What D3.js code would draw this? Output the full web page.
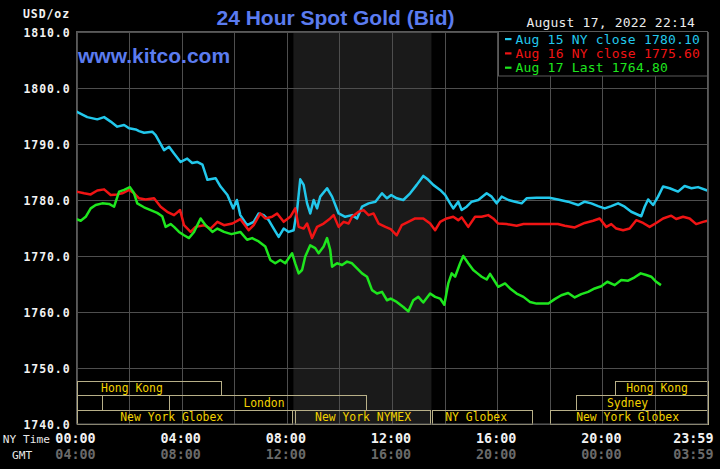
<!DOCTYPE html>
<html><head><meta charset="utf-8">
<script src="https://cdn.jsdelivr.net/npm/d3@7"></script>
<style>html,body{margin:0;padding:0;background:#000;overflow:hidden}</style>
</head><body><svg id="c" width="720" height="469"></svg>
<script>
// ---- data ----
const aug15Times=[0,0.41,0.79,1.05,1.30,1.55,1.81,2.0,2.25,2.38,2.57,2.88,3.01,3.33,3.52,3.71,3.96,4.21,4.40,4.59,4.79,4.98,5.29,5.48,5.74,5.96,6.1,6.23,6.49,6.74,6.93,7.12,7.31,7.50,7.69,7.88,8.07,8.26,8.39,8.51,8.64,8.77,8.89,9.02,9.15,9.27,9.53,9.72,9.97,10.22,10.48,10.67,10.86,11.11,11.37,11.62,11.81,11.97,12.18,12.43,12.69,12.94,13.19,13.38,13.57,13.83,14.02,14.21,14.33,14.52,14.65,14.84,15.03,15.28,15.60,15.79,15.98,16.17,16.43,16.68,16.93,17.12,17.50,17.98,18.31,18.69,19.08,19.33,19.58,19.84,20.09,20.34,20.60,20.85,21.10,21.48,21.61,21.74,21.93,22.12,22.31,22.56,22.88,23.13,23.39,23.64,23.99];
const aug15Values=[1795.8,1794.8,1794.4,1794.8,1794.0,1793.1,1793.4,1792.8,1792.6,1792.3,1792.0,1792.2,1791.6,1788.9,1789.5,1788.3,1786.8,1787.4,1786.6,1786.8,1786.3,1783.6,1783.9,1782.4,1780.9,1778.5,1780.0,1777.3,1775.5,1776.1,1777.6,1777.3,1776.4,1774.9,1773.4,1774.9,1774.3,1774.6,1778.2,1783.7,1782.7,1779.4,1777.6,1780.0,1778.5,1780.6,1782.1,1780.6,1777.6,1777.0,1777.3,1776.7,1778.8,1779.4,1779.7,1781.2,1780.3,1780.9,1780.3,1780.0,1781.2,1782.7,1784.3,1783.6,1782.7,1781.8,1780.9,1779.4,1778.5,1779.7,1778.2,1778.8,1779.7,1780.0,1781.2,1780.6,1779.4,1780.6,1780.0,1779.7,1779.4,1780.3,1780.4,1780.4,1780.1,1779.7,1779.1,1779.7,1779.4,1778.9,1778.5,1778.9,1779.4,1778.8,1777.9,1777.1,1778.8,1780.1,1779.1,1780.6,1782.4,1782.1,1781.5,1782.5,1782.1,1782.3,1781.7];

const aug16Times=[0,0.29,0.54,0.79,1.05,1.30,1.55,1.74,2.0,2.19,2.38,2.63,2.95,3.2,3.45,3.71,3.94,4.09,4.34,4.53,4.85,5.10,5.36,5.61,5.93,6.23,6.55,6.74,6.99,7.18,7.44,7.63,7.88,8.13,8.32,8.45,8.64,8.77,8.96,9.15,9.40,9.65,9.78,9.97,10.16,10.35,10.48,10.73,10.92,11.11,11.30,11.49,11.75,11.95,12.18,12.37,12.62,12.88,13.19,13.45,13.64,13.83,14.08,14.33,14.52,14.65,14.90,15.16,15.41,15.66,15.85,16.04,16.36,16.74,17.0,17.98,18.31,18.57,18.95,19.33,19.65,19.90,20.15,20.34,20.53,20.79,21.04,21.29,21.55,21.80,22.05,22.31,22.62,22.81,23.07,23.32,23.57,23.83,24];
const aug16Values=[1781.5,1781.2,1781.0,1781.7,1781.9,1780.9,1781.0,1781.2,1781.8,1781.2,1780.3,1780.1,1780.3,1778.8,1777.9,1777.3,1778.2,1775.5,1774.3,1775.2,1775.5,1774.9,1776.1,1775.5,1775.8,1776.6,1774.6,1775.5,1777.6,1776.7,1777.0,1777.6,1776.1,1777.0,1778.5,1775.2,1774.9,1775.8,1773.2,1775.2,1775.8,1776.7,1777.3,1775.2,1776.1,1775.8,1777.0,1777.9,1778.2,1777.3,1777.6,1775.8,1775.2,1774.8,1773.7,1775.5,1776.1,1776.7,1776.7,1775.8,1774.6,1776.1,1776.7,1777.0,1776.4,1776.9,1775.2,1777.0,1777.0,1777.3,1776.7,1775.8,1775.7,1775.4,1775.7,1775.7,1775.7,1775.4,1775.1,1775.9,1776.3,1776.7,1775.2,1775.7,1774.9,1774.6,1774.9,1776.4,1775.9,1775.2,1775.9,1776.7,1777.2,1776.6,1777.0,1776.7,1775.7,1776.1,1776.3];

const aug17Times=[0,0.16,0.35,0.54,0.73,0.98,1.24,1.43,1.62,1.81,2.03,2.19,2.31,2.57,2.82,3.07,3.26,3.39,3.58,3.71,3.90,4.09,4.28,4.47,4.72,4.91,5.17,5.36,5.61,5.89,6.23,6.49,6.68,6.93,7.18,7.37,7.56,7.75,7.94,8.20,8.32,8.45,8.58,8.70,8.89,9.08,9.21,9.40,9.53,9.65,9.72,9.91,10.10,10.29,10.48,10.67,10.86,11.05,11.24,11.43,11.62,11.81,11.95,12.18,12.43,12.62,12.81,13.0,13.19,13.45,13.64,13.83,13.99,14.14,14.27,14.40,14.59,14.71,14.90,15.09,15.25,15.41,15.60,15.73,15.92,16.04,16.30,16.49,16.74,17.0,17.25,17.50,17.95,18.19,18.44,18.70,18.95,19.20,19.46,19.71,19.96,20.19,20.47,20.72,20.98,21.23,21.46,21.67,21.86,22.05,22.23];
const aug17Values=[1776.6,1776.3,1777.0,1778.5,1779.1,1779.4,1779.3,1778.8,1781.5,1781.8,1782.3,1781.2,1779.4,1778.7,1778.2,1777.7,1777.1,1775.2,1775.7,1775.2,1774.3,1773.7,1773.2,1774.3,1776.7,1775.5,1774.3,1774.9,1774.3,1773.9,1774.3,1772.9,1773.2,1772.6,1771.7,1769.3,1768.7,1769.3,1768.7,1770.5,1768.7,1766.9,1767.5,1769.9,1771.9,1771.4,1770.5,1771.7,1773.2,1771.1,1768.1,1768.7,1768.4,1769.0,1768.7,1767.8,1766.9,1766.3,1763.9,1763.3,1763.6,1762.1,1762.4,1761.8,1760.9,1760.1,1762.1,1762.7,1761.7,1763.3,1762.7,1762.4,1761.3,1765.1,1766.9,1766.3,1768.7,1770.0,1768.7,1767.5,1766.9,1766.3,1765.8,1766.8,1765.4,1764.5,1765.1,1764.2,1763.3,1762.7,1761.8,1761.5,1761.5,1762.3,1763.0,1763.4,1762.6,1763.2,1763.6,1764.2,1764.6,1765.4,1764.8,1765.7,1765.6,1766.2,1766.9,1766.6,1766.3,1765.4,1764.8];

const seriesLabels=["Aug 15 NY close 1780.10","Aug 16 NY close 1775.60","Aug 17 Last 1764.80"];
const yTickValues=[1740,1750,1760,1770,1780,1790,1800,1810];
const gridHours=[0,2,4,6,8,10,12,14,16,18,20,22,24];
const xTickHours=[0,4,8,12,16,20,24];
const nyTimeLabels=["00:00","04:00","08:00","12:00","16:00","20:00","23:59"];
const gmtLabels=["04:00","08:00","12:00","16:00","20:00","00:00","03:59"];
const nymexHours=[8.25,13.5];
const sessionNames=["Hong Kong","Hong Kong","","London","Sydney","New York Globex","New York NYMEX","NY Globex","New York Globex"];
const sessionRows=[0,0,1,1,1,2,2,2,2];
const sessionStart=[0,20.5,0,3.5,19.0,0,8.3,13.52,18.0];
const sessionEnd=[5.5,24,0.97,11.0,24,8.19,13.44,17.33,24];
const sessionLabelAt=[2.11,22.08,0,7.13,20.96,3.62,10.90,15.20,20.96];
const titleText="24 Hour Spot Gold (Bid)";
const siteText="www.kitco.com";
const dateText="August 17, 2022 22:14";

// ---- drawing ----
const svg=d3.select("#c");
const L=76.5,R=707.5,T=32,B=424;
const x=d3.scaleLinear().domain([0,24]).range([L,R]);
const y=d3.scaleLinear().domain([1740,1810]).range([B,T]);
const mono="'DejaVu Sans Mono', monospace";
const gridCol="#4e4e4e";

svg.append("rect").attr("width",720).attr("height",469).attr("fill","#000");
// NYMEX shading
svg.append("rect").attr("x",x(nymexHours[0])).attr("y",T).attr("width",x(nymexHours[1])-x(nymexHours[0])).attr("height",B-T).attr("fill","#1a1a1a");

// grid
svg.append("g").selectAll("line.v").data(gridHours).join("line")
  .attr("x1",d=>Math.round(x(d))+0.5).attr("x2",d=>Math.round(x(d))+0.5).attr("y1",T).attr("y2",B)
  .attr("stroke",gridCol).attr("stroke-width",1);
const yAxis=d3.axisLeft(y).tickValues(yTickValues).tickFormat(d3.format(".1f")).tickSize(-(R-L)).tickPadding(6);
const ya=svg.append("g").attr("transform",`translate(${L},0)`).call(yAxis);
ya.select(".domain").remove();
ya.selectAll(".tick line").attr("stroke",gridCol).attr("shape-rendering","crispEdges");
ya.selectAll(".tick text").attr("fill","#f2f2f2").attr("font-family",mono).attr("font-size","11.5px").attr("font-weight","bold").attr("letter-spacing","0.9px").attr("dy","0.38em");

// session boxes
const rowTop=[381.5,395.5,410.5];
const rowH=[14,15,14];
const sess=svg.append("g");
sessionNames.forEach((n,i)=>{
  const r=sessionRows[i];
  sess.append("rect").attr("x",Math.round(x(sessionStart[i]))+0.5).attr("y",rowTop[r])
    .attr("width",Math.round(x(sessionEnd[i]))-Math.round(x(sessionStart[i]))).attr("height",rowH[r])
    .attr("fill","none").attr("stroke","#b8b088").attr("stroke-width",1);
  if(n) sess.append("text").attr("x",x(sessionLabelAt[i])).attr("y",rowTop[r]+rowH[r]-3.5)
    .attr("text-anchor","middle").attr("fill","#f2d200").attr("font-family",mono).attr("font-size","11.4px").text(n);
});

// lines
const series=[
  {t:aug15Times,v:aug15Values,c:"#22c8ec"},
  {t:aug16Times,v:aug16Values,c:"#f01414"},
  {t:aug17Times,v:aug17Values,c:"#1ee61e"}
];
const line=d3.line().x(d=>x(d[0])).y(d=>y(d[1]));
series.forEach(s=>{
  svg.append("path").datum(s.t.map((t,i)=>[t,s.v[i]])).attr("d",line)
    .attr("fill","none").attr("stroke",s.c).attr("stroke-width",2.5).attr("stroke-linejoin","round");
});

// plot border
svg.append("rect").attr("x",L).attr("y",T-0.5).attr("width",R-L).attr("height",B-T+0.5).attr("fill","none").attr("stroke","#5a5a5a");

// legend
svg.append("rect").attr("x",498.5).attr("y",T-0.5).attr("width",R-498.5).attr("height",44.5).attr("fill","#000").attr("stroke","#5a5a5a");
seriesLabels.forEach((lab,i)=>{
  const by=43.5+i*14.3;
  svg.append("rect").attr("x",505).attr("y",by-5.5).attr("width",6.5).attr("height",2.2).attr("fill",series[i].c);
  svg.append("text").attr("x",515.5).attr("y",by).attr("fill",series[i].c).attr("font-family",mono).attr("font-size","13px").attr("letter-spacing","0.2px").text(lab);
});

// x axes
const xa=d3.axisBottom(x).tickValues(xTickHours).tickSize(0).tickPadding(9.5).tickFormat((d,i)=>nyTimeLabels[i]);
const xg=svg.append("g").attr("transform",`translate(0,${B})`).call(xa);
xg.select(".domain").remove();
xg.selectAll(".tick text").attr("fill","#f2f2f2").attr("font-family",mono).attr("font-size","13.4px").attr("font-weight","bold").attr("dx","-1.5");
const xa2=d3.axisBottom(x).tickValues(xTickHours).tickSize(0).tickPadding(25.5).tickFormat((d,i)=>gmtLabels[i]);
const xg2=svg.append("g").attr("transform",`translate(0,${B})`).call(xa2);
xg2.select(".domain").remove();
xg2.selectAll(".tick text").attr("fill","#6a6a6a").attr("font-family",mono).attr("font-size","13.4px").attr("font-weight","bold").attr("dx","-1.5");
[xg,xg2].forEach(g=>g.selectAll(".tick").filter(d=>d===24).select("text").attr("text-anchor","end").attr("dx","5.5"));

svg.append("text").attr("x",50).attr("y",443).attr("text-anchor","end").attr("fill","#e8e8e8").attr("font-family",mono).attr("font-size","11.2px").text("NY Time");
svg.append("text").attr("x",12).attr("y",459).attr("fill","#e8e8e8").attr("font-family",mono).attr("font-size","11.2px").text("GMT");

// titles
svg.append("text").attr("x",70).attr("y",18).attr("text-anchor","end").attr("fill","#f2f2f2").attr("font-family",mono).attr("font-size","11.5px").attr("font-weight","bold").attr("letter-spacing","0.9px").text("USD/oz");
svg.append("text").attr("x",335.5).attr("y",25).attr("text-anchor","middle").attr("fill","#5b7cf0").attr("font-family","'Liberation Sans', Arial, sans-serif").attr("font-size","21px").attr("font-weight","bold").text(titleText);
svg.append("text").attr("x",78).attr("y",63).attr("fill","#5b7cf0").attr("font-family","'Liberation Sans', Arial, sans-serif").attr("font-size","21px").attr("font-weight","bold").text(siteText);
svg.append("text").attr("x",695).attr("y",27).attr("text-anchor","end").attr("fill","#ececec").attr("font-family",mono).attr("font-size","13px").attr("letter-spacing","0.2px").text(dateText);
</script></body></html>
